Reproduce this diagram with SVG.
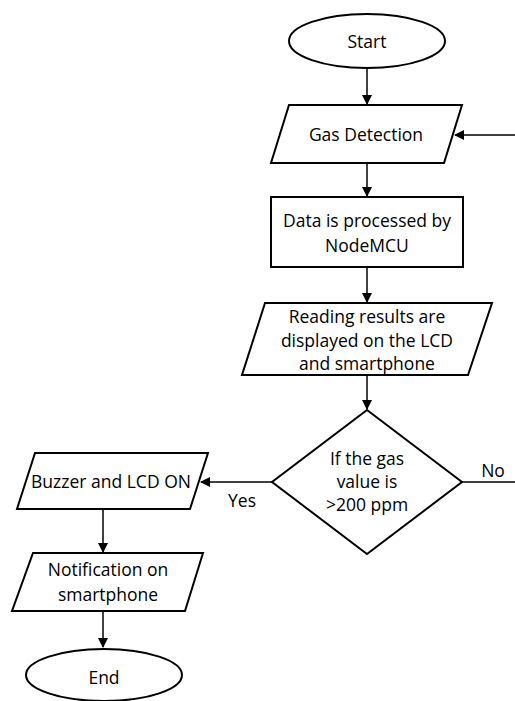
<svg xmlns="http://www.w3.org/2000/svg" width="515" height="701" viewBox="0 0 515 701">
<defs>
<marker id="ah" markerWidth="10" markerHeight="10" refX="9" refY="5" orient="auto" markerUnits="userSpaceOnUse">
<path d="M0,0 L10,5 L0,10 z" fill="#000"/>
</marker>
<style>
.s{fill:#fff;stroke:#000;stroke-width:2}
.c{fill:none;stroke:#000;stroke-width:1.5}
text{font-family:"Open Sans","Liberation Sans",sans-serif;font-size:17.5px;fill:#000;text-anchor:middle;dominant-baseline:central}
</style>
</defs>
<rect width="515" height="701" fill="#fff"/>
<g id="connectors">
<line class="c" x1="367" y1="69" x2="367" y2="104" marker-end="url(#ah)"/>
<line class="c" x1="515" y1="135" x2="455" y2="135" marker-end="url(#ah)"/>
<line class="c" x1="367" y1="163" x2="367" y2="196" marker-end="url(#ah)"/>
<line class="c" x1="367" y1="267" x2="367" y2="302" marker-end="url(#ah)"/>
<line class="c" x1="367" y1="375" x2="367" y2="409" marker-end="url(#ah)"/>
<line class="c" x1="272" y1="482" x2="201" y2="482" marker-end="url(#ah)"/>
<line class="c" x1="462" y1="482" x2="515" y2="482"/>
<line class="c" x1="103" y1="509" x2="103" y2="552" marker-end="url(#ah)"/>
<line class="c" x1="103" y1="611" x2="103" y2="647" marker-end="url(#ah)"/>
<text x="242" y="500">Yes</text>
<text x="493" y="470">No</text>
</g>
<g id="start">
<ellipse class="s" cx="367" cy="41" rx="78" ry="27"/>
<text x="367" y="41">Start</text>
</g>
<g id="gas-detection">
<polygon class="s" points="289,105 462,105 444,163 271,163"/>
<text x="366" y="134">Gas Detection</text>
</g>
<g id="process">
<rect class="s" x="271" y="197" width="192" height="70"/>
<text x="367" y="220">Data is processed by</text>
<text x="367" y="245">NodeMCU</text>
</g>
<g id="display">
<polygon class="s" points="265,303 492,303 468,375 242,375"/>
<text x="367" y="316">Reading results are</text>
<text x="367" y="340">displayed on the LCD</text>
<text x="367" y="363">and smartphone</text>
</g>
<g id="decision">
<polygon class="s" points="367,410 462,482 367,554 272,482"/>
<text x="367" y="458">If the gas</text>
<text x="367" y="481">value is</text>
<text x="367" y="504">&gt;200 ppm</text>
</g>
<g id="buzzer">
<polygon class="s" points="35,453 208,453 190,509 17,509"/>
<text x="111" y="481">Buzzer and LCD ON</text>
</g>
<g id="notification">
<polygon class="s" points="33,553 203,553 185,611 12,611"/>
<text x="108" y="569">Notification on</text>
<text x="108" y="594">smartphone</text>
</g>
<g id="end">
<ellipse class="s" cx="104" cy="675" rx="78" ry="26"/>
<text x="104" y="677">End</text>
</g>
</svg>
